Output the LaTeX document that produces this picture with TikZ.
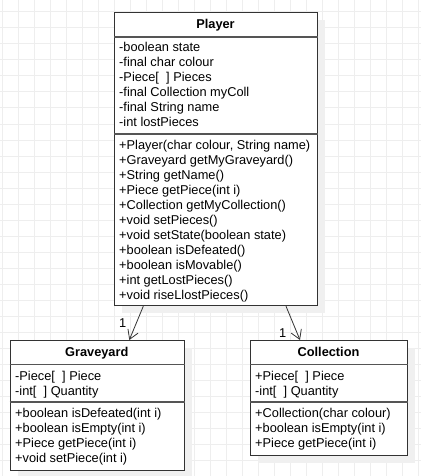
\documentclass[tikz,border=0pt]{standalone}
\usepackage{fontspec}
\setmainfont{Liberation Sans}
\usetikzlibrary{arrows.meta,calc}
\definecolor{gridc}{HTML}{EEEEEE}
\definecolor{linec}{HTML}{333333}
\definecolor{sepc}{HTML}{555555}
\begin{document}
\begin{tikzpicture}[x=1pt,y=-1pt,
  umlbox/.style={draw=linec, line width=1.2pt, fill=white, inner sep=0pt, anchor=north west},
  shadowbox/.style={fill=black!6, draw=none, inner sep=0pt, anchor=north west},
  sepline/.style={draw=sepc, line width=1.2pt},
  title/.style={font=\bfseries\fontsize{12.8}{15}\selectfont, anchor=base, inner sep=0pt},
  member/.style={font=\fontsize{12.8}{15}\selectfont, anchor=base west, inner sep=0pt},
  assoc/.style={draw=linec, line width=0.8pt, -{Straight Barb[length=9pt,width=11pt]}},
  mult/.style={font=\fontsize{12.8}{15}\selectfont, inner sep=0pt}]
\useasboundingbox (0,0) rectangle (421,476);
\fill[white] (0,0) rectangle (421,476);
% grid
\foreach \x in {2,18,...,418} \draw[gridc, line width=1pt] (\x,0) -- (\x,476);
\foreach \y in {12,28,...,476} \draw[gridc, line width=1pt] (0,\y) -- (421,\y);
% shadows
\node[shadowbox, minimum width=203pt, minimum height=293pt] (psh) at (122,20) {};
\node[shadowbox, minimum width=174.5pt, minimum height=130pt] (gsh) at (17.5,348) {};
\node[shadowbox, minimum width=157pt, minimum height=115pt] (csh) at (258,348) {};
% boxes
\node[umlbox, minimum width=203pt, minimum height=293pt] (player) at (114,12) {};
\node[umlbox, minimum width=174.5pt, minimum height=130pt] (grave) at (9.5,340) {};
\node[umlbox, minimum width=157pt, minimum height=115pt] (coll) at (250,340) {};
% separators
\draw[sepline] ($(player.north west)+(0,25)$) -- ($(player.north east)+(0,25)$);
\draw[sepline] ($(player.north west)+(0,122)$) -- ($(player.north east)+(0,122)$);
\draw[sepline] ($(grave.north west)+(0,24.5)$) -- ($(grave.north east)+(0,24.5)$);
\draw[sepline] ($(grave.north west)+(0,62)$) -- ($(grave.north east)+(0,62)$);
\draw[sepline] ($(coll.north west)+(0,24.5)$) -- ($(coll.north east)+(0,24.5)$);
\draw[sepline] ($(coll.north west)+(0,62)$) -- ($(coll.north east)+(0,62)$);
% titles
\node[title] (ptitle) at (215.5,29) {Player};
\node[title] (gtitle) at (96.75,356.5) {Graveyard};
\node[title] (ctitle) at (328.5,356.5) {Collection};
% Player members
\foreach [count=\i] \t in {-boolean state,-final char colour,{-Piece[\ \ ] Pieces},-final Collection myColl,-final String name,-int lostPieces}
  \node[member] (pa\i) at (119,37+15*\i) {\t};
\foreach [count=\i] \t in {{+Player(char colour, String name)},+Graveyard getMyGraveyard(),+String getName(),+Piece getPiece(int i),+Collection getMyCollection(),+void setPieces(),+void setState(boolean state),+boolean isDefeated(),+boolean isMovable(),+int getLostPieces(),+void riseLlostPieces()}
  \node[member] (pm\i) at (119,134+15*\i) {\t};
% Graveyard members
\foreach [count=\i] \t in {{-Piece[\ \ ] Piece},{-int[\ \ ] Quantity}}
  \node[member] (ga\i) at (15,365+15*\i) {\t};
\foreach [count=\i] \t in {+boolean isDefeated(int i),+boolean isEmpty(int i),+Piece getPiece(int i),+void setPiece(int i)}
  \node[member] (gm\i) at (15,402+15*\i) {\t};
% Collection members
\foreach [count=\i] \t in {{+Piece[\ \ ] Piece},{-int[\ \ ] Quantity}}
  \node[member] (ca\i) at (255,365+15*\i) {\t};
\foreach [count=\i] \t in {+Collection(char colour),+boolean isEmpty(int i),+Piece getPiece(int i)}
  \node[member] (cm\i) at (255,402+15*\i) {\t};
% associations
\coordinate (ps1) at ($(player.south west)+(29.3,0)$);
\coordinate (gt) at ($(grave.north west)+(119.8,0)$);
\coordinate (ps2) at ($(player.south west)+(172,0)$);
\coordinate (ct) at ($(coll.north west)+(50,0)$);
\draw[assoc] (ps1) -- (gt);
\draw[assoc] (ps2) -- (ct);
\node[mult] (m1) at (122.7,322.7) {1};
\node[mult] (m2) at (282.7,332.7) {1};
\end{tikzpicture}
\end{document}
